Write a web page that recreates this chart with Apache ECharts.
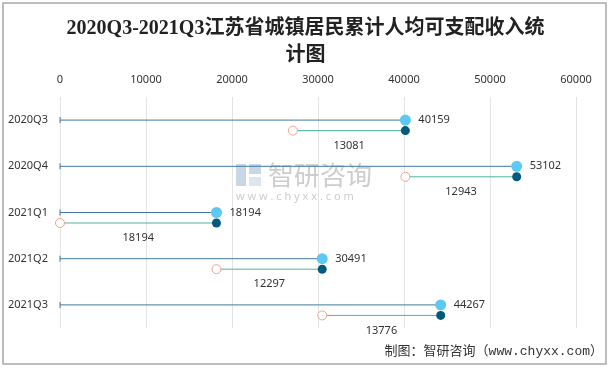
<!DOCTYPE html>
<html>
<head>
<meta charset="utf-8">
<script src="https://cdn.jsdelivr.net/npm/echarts@6/dist/echarts.min.js"></script>
<style>html,body{margin:0;padding:0;background:#fff}#c{width:611px;height:368px}</style>
</head>
<body>
<div id="c"></div>
<script>
const categories = ['2020Q3', '2020Q4', '2021Q1', '2021Q2', '2021Q3'];
const cumulative = [40159, 53102, 18194, 30491, 44267];
const increase = [13081, 12943, 18194, 12297, 13776];
const xTicks = [0, 10000, 20000, 30000, 40000, 50000, 60000];

const data = categories.map((c, i) => [i, cumulative[i], cumulative[i] - increase[i], increase[i]]);

const chart = echarts.init(document.getElementById('c'));
const labelFont = '"Noto Sans", "Noto Sans CJK SC", sans-serif';

chart.setOption({
  animation: false,
  title: {
    text: '2020Q3-2021Q3江苏省城镇居民累计人均可支配收入统\n计图',
    left: 'center',
    top: 10,
    textStyle: {
      fontFamily: '"Liberation Serif", "Noto Sans CJK SC", serif',
      fontSize: 20,
      fontWeight: 'bold',
      color: '#222',
      lineHeight: 27
    }
  },
  grid: { left: 60, right: 35, top: 97, bottom: 40 },
  xAxis: {
    type: 'value',
    position: 'top',
    min: xTicks[0],
    max: xTicks[xTicks.length - 1],
    interval: 10000,
    axisLine: { show: false },
    axisTick: { show: false },
    axisLabel: { color: '#333', fontSize: 11, margin: 12, fontFamily: labelFont, formatter: v => String(v) },
    splitLine: { lineStyle: { color: '#e4e4e4' } }
  },
  yAxis: {
    type: 'category',
    data: categories,
    inverse: true,
    axisLine: { show: false },
    axisTick: { show: false },
    axisLabel: { color: '#333', fontSize: 11, margin: 12, fontFamily: labelFont }
  },
  graphic: [
    { type: 'rect', shape: { x: 3, y: 3, width: 603, height: 361 }, style: { fill: 'none', stroke: '#a8a8a8', lineWidth: 1.5 }, z: 0 },
    { type: 'rect', shape: { x: 236, y: 164, width: 10, height: 22 }, style: { fill: '#c9d6e6' }, z: 0 },
    { type: 'rect', shape: { x: 249, y: 164, width: 12, height: 10 }, style: { fill: '#c9d6e6' }, z: 0 },
    { type: 'rect', shape: { x: 249, y: 177, width: 12, height: 9 }, style: { fill: '#dde5ee' }, z: 0 },
    { type: 'text', left: 268, top: 162, style: { text: '智研咨询', fontSize: 26, fill: '#cdcdcd', fontFamily: '"Noto Sans CJK SC", sans-serif' }, z: 0 },
    { type: 'text', left: 236, top: 191, style: { text: 'w w w . c h y x x . c o m', fontSize: 11, fill: '#cdcdcd', fontFamily: labelFont }, z: 0 },
    { type: 'text', right: 8, top: 345, style: { text: '制图：智研咨询（www.chyxx.com）', fontSize: 13, fill: '#333', fontFamily: '"Liberation Mono", "Noto Sans CJK SC", monospace' }, z: 10 }
  ],
  series: [{
    type: 'custom',
    data: data,
    encode: { x: [1, 2], y: 0 },
    z: 5,
    renderItem: function (params, api) {
      const i = api.value(0), v = api.value(1), p = api.value(2), d = api.value(3);
      const end = api.coord([v, i]);
      const s0 = api.coord([0, i]);
      const ps = api.coord([p, i]);
      const off = 10.5;
      const yl = end[1] + off;
      return {
        type: 'group',
        children: [
          { type: 'line', shape: { x1: s0[0], y1: s0[1], x2: end[0], y2: end[1] }, style: { stroke: '#3f7aa2', lineWidth: 1 } },
          { type: 'line', shape: { x1: s0[0], y1: s0[1] - 3, x2: s0[0], y2: s0[1] + 3 }, style: { stroke: '#3f7aa2', lineWidth: 1 } },
          { type: 'line', shape: { x1: ps[0], y1: yl, x2: end[0], y2: yl }, style: { stroke: '#4db3a6', lineWidth: 1 } },
          { type: 'circle', shape: { cx: ps[0], cy: yl, r: 4.5 }, style: { fill: '#fff', stroke: '#f0a18d', lineWidth: 1 } },
          { type: 'circle', shape: { cx: end[0], cy: yl, r: 4.5 }, style: { fill: '#005a7c' } },
          { type: 'circle', shape: { cx: end[0], cy: end[1], r: 5.5 }, style: { fill: '#5dc8f3' } },
          { type: 'text', style: { x: end[0] + 13, y: end[1], text: String(v), fill: '#333', fontSize: 11, fontFamily: labelFont, verticalAlign: 'middle', align: 'left' } },
          { type: 'text', style: { x: (ps[0] + end[0]) / 2, y: yl + 15, text: String(d), fill: '#333', fontSize: 11, fontFamily: labelFont, verticalAlign: 'middle', align: 'center' } }
        ]
      };
    }
  }]
});
</script>
</body>
</html>
